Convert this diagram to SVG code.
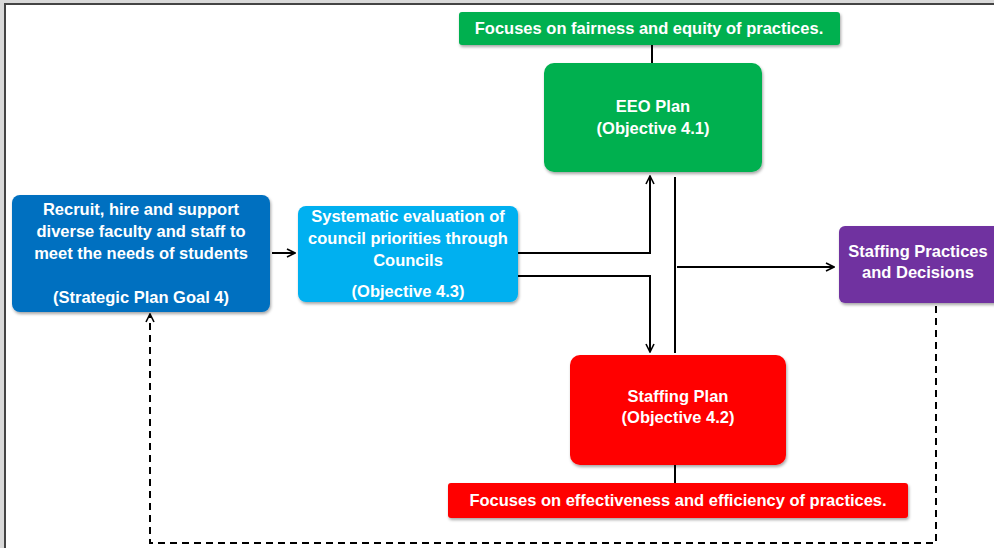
<svg xmlns="http://www.w3.org/2000/svg" width="994" height="548" viewBox="0 0 994 548">
<defs>
<style>
.t{font-family:"Liberation Sans",Arial,sans-serif;font-weight:bold;fill:#fff;text-anchor:middle;font-size:16.5px}
.ln{fill:none;stroke:#000;stroke-width:2}
.ds{fill:none;stroke:#000;stroke-width:2;stroke-dasharray:7,5}
.box{filter:url(#sh)}
</style>
<filter id="sh" x="-10%" y="-10%" width="130%" height="130%">
<feDropShadow dx="1" dy="2" stdDeviation="1.5" flood-color="#000" flood-opacity="0.35"/>
</filter>
<marker id="ah2" viewBox="0 0 10 10" refX="9" refY="5" markerWidth="10" markerHeight="10" orient="auto" markerUnits="userSpaceOnUse">
<path d="M1,1 L9,5 L1,9" fill="none" stroke="#000" stroke-width="1.6"/>
</marker>
</defs>
<rect x="0" y="0" width="994" height="548" fill="#d9d9d9"/>
<rect x="5" y="4" width="995" height="560" fill="#fff" stroke="#444" stroke-width="2"/>

<g id="connectors">
<line class="ln" x1="652" y1="45" x2="652" y2="63"/>
<line class="ln" x1="272" y1="253" x2="295" y2="253" marker-end="url(#ah2)"/>
<polyline class="ln" points="518,253 650,253 650,176" marker-end="url(#ah2)"/>
<polyline class="ln" points="518,276 650,276 650,352" marker-end="url(#ah2)"/>
<line class="ln" x1="675" y1="177" x2="675" y2="353"/>
<line class="ln" x1="677" y1="267" x2="834" y2="267" marker-end="url(#ah2)"/>
<line class="ln" x1="675" y1="465" x2="675" y2="483"/>
<polyline class="ds" points="936,306 936,543 150,543 150,314" marker-end="url(#ah2)"/>
</g>

<g id="focus-fairness">
<rect class="box" x="459" y="12" width="381" height="33" rx="3" fill="#00b050"/>
<text class="t" x="649" y="34">Focuses on fairness and equity of practices.</text>
</g>
<g id="eeo-plan">
<rect class="box" x="544" y="63" width="218" height="109" rx="10" fill="#00b050"/>
<text class="t" x="653" y="112">EEO Plan</text>
<text class="t" x="653" y="134">(Objective 4.1)</text>
</g>
<g id="recruit">
<rect class="box" x="12" y="195" width="258" height="117" rx="8" fill="#0070c0"/>
<text class="t" x="141" y="215">Recruit, hire and support</text>
<text class="t" x="141" y="237">diverse faculty and staff to</text>
<text class="t" x="141" y="259">meet the needs of students</text>
<text class="t" x="141" y="303">(Strategic Plan Goal 4)</text>
</g>
<g id="systematic">
<rect class="box" x="298" y="206" width="220" height="96" rx="8" fill="#00b0f0"/>
<text class="t" x="408" y="222">Systematic evaluation of</text>
<text class="t" x="408" y="244">council priorities through</text>
<text class="t" x="408" y="266">Councils</text>
<text class="t" x="408" y="297">(Objective 4.3)</text>
</g>
<g id="staffing-practices">
<rect class="box" x="839" y="226" width="170" height="77" rx="6" fill="#7030a0"/>
<text class="t" x="918" y="257">Staffing Practices</text>
<text class="t" x="918" y="278">and Decisions</text>
</g>
<g id="staffing-plan">
<rect class="box" x="570" y="355" width="216" height="110" rx="10" fill="#ff0000"/>
<text class="t" x="678" y="402">Staffing Plan</text>
<text class="t" x="678" y="423">(Objective 4.2)</text>
</g>
<g id="focus-effectiveness">
<rect class="box" x="448" y="483" width="460" height="35" rx="3" fill="#ff0000"/>
<text class="t" x="678" y="506">Focuses on effectiveness and efficiency of practices.</text>
</g>
</svg>
